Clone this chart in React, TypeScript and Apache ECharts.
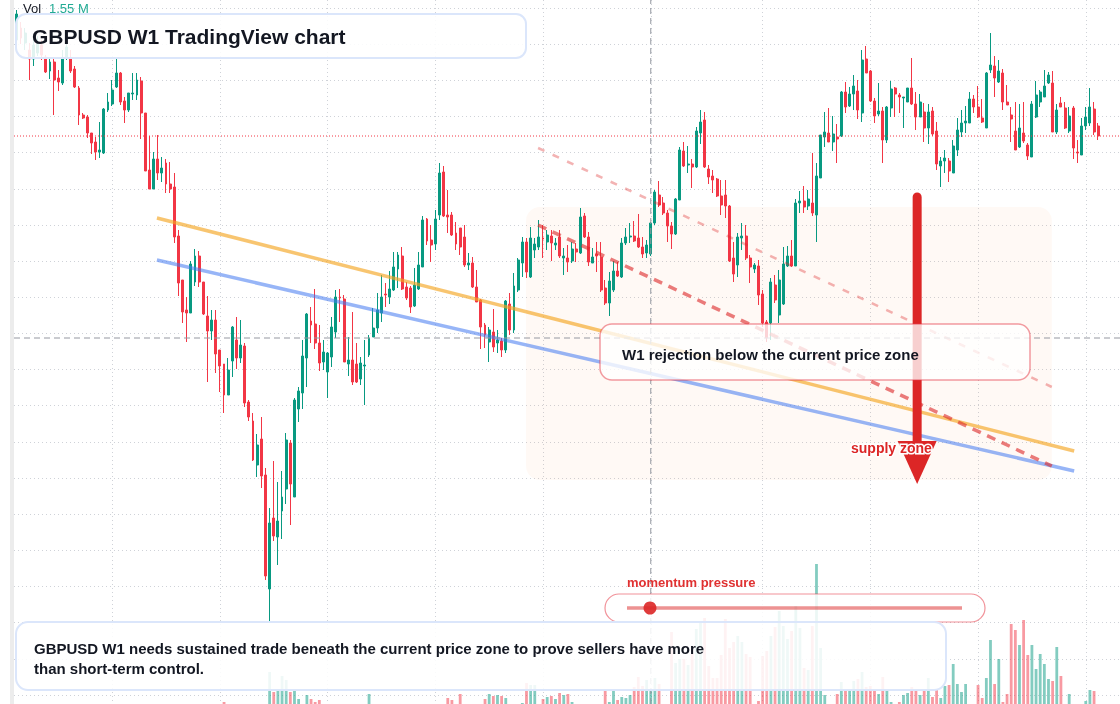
import React, { useEffect, useRef } from "react";
import * as echarts from "echarts";

// ---- weekly GBPUSD candles ----
const opens = [
  1.4320, 1.4404, 1.4299, 1.4250, 1.4187, 1.4229, 1.4285, 1.4201, 1.4103, 1.4166,
  1.4054, 1.4019, 1.4194, 1.4194, 1.4117, 1.3984, 1.3795, 1.3781, 1.3669, 1.3606,
  1.3536, 1.3529, 1.3830, 1.3872, 1.3991, 1.4089, 1.3893, 1.3830, 1.3942, 1.3935,
  1.4033, 1.3809, 1.3410, 1.3277, 1.3487, 1.3389, 1.3459, 1.3312, 1.3291, 1.2948,
  1.2640, 1.2430, 1.2409, 1.2626, 1.2808, 1.2626, 1.2388, 1.2283, 1.2360, 1.2150,
  1.2052, 1.1835, 1.2073, 1.2220, 1.2094, 1.2178, 1.1786, 1.1653, 1.1345, 1.1527,
  1.1275, 1.0477, 1.0974, 1.0841, 1.1023, 1.1177, 1.1499, 1.1121, 1.1737, 1.1849,
  1.2094, 1.2353, 1.2332, 1.2199, 1.2066, 1.1996, 1.2101, 1.2276, 1.2521, 1.2507,
  1.2052, 1.2080, 1.2052, 1.1947, 1.2038, 1.2115, 1.2241, 1.2304, 1.2409, 1.2542,
  1.2521, 1.2570, 1.2717, 1.2808, 1.2591, 1.2584, 1.2458, 1.2577, 1.2731, 1.3067,
  1.2920, 1.2892, 1.3095, 1.3396, 1.3095, 1.3095, 1.2969, 1.3004, 1.2941, 1.2745,
  1.2759, 1.2591, 1.2500, 1.2325, 1.2206, 1.2276, 1.2199, 1.2213, 1.2150, 1.2472,
  1.2290, 1.2570, 1.2759, 1.2906, 1.2661, 1.2850, 1.2871, 1.2934, 1.2906, 1.2948,
  1.2885, 1.2941, 1.2794, 1.2794, 1.2773, 1.2857, 1.2829, 1.3088, 1.2941, 1.2759,
  1.2822, 1.2801, 1.2584, 1.2479, 1.2570, 1.2703, 1.2661, 1.2899, 1.2941, 1.2948,
  1.2934, 1.2871, 1.2829, 1.2822, 1.3039, 1.3235, 1.3179, 1.3109, 1.3018, 1.2962,
  1.3200, 1.3543, 1.3445, 1.3452, 1.3431, 1.3669, 1.3760, 1.3417, 1.3368, 1.3347,
  1.3228, 1.3235, 1.3158, 1.2794, 1.2745, 1.2934, 1.2948, 1.2794, 1.2717, 1.2738,
  1.2542, 1.2346, 1.2339, 1.2605, 1.2395, 1.2472, 1.2738, 1.2808, 1.2738, 1.3179,
  1.3193, 1.3158, 1.3179, 1.3095, 1.3354, 1.3641, 1.3669, 1.3606, 1.3641, 1.3648,
  1.3956, 1.3858, 1.3942, 1.3963, 1.3809, 1.4187, 1.4103, 1.3893, 1.3802, 1.3823,
  1.3620, 1.3844, 1.3984, 1.3935, 1.3914, 1.3886, 1.3984, 1.3872, 1.3781, 1.3816,
  1.3704, 1.3823, 1.3683, 1.3438, 1.3473, 1.3473, 1.3389, 1.3550, 1.3676, 1.3739,
  1.3739, 1.3907, 1.3851, 1.3774, 1.3704, 1.4110, 1.4138, 1.4026, 1.4089, 1.3886,
  1.3795, 1.3683, 1.3571, 1.3669, 1.3585, 1.3501, 1.3781, 1.3886, 1.3921, 1.4019,
  1.4019, 1.3676, 1.3879, 1.3844, 1.3683, 1.3844, 1.3536, 1.3515, 1.3718, 1.3739,
  1.3837, 1.3718,
];
const closes = [
  1.4502, 1.4334, 1.4369, 1.4187, 1.4285, 1.4306, 1.4215, 1.4096, 1.4166, 1.4040,
  1.4026, 1.4194, 1.4271, 1.4103, 1.3991, 1.3795, 1.3774, 1.3669, 1.3599, 1.3536,
  1.3550, 1.3837, 1.3886, 1.3970, 1.4089, 1.3886, 1.3830, 1.3949, 1.3949, 1.4040,
  1.3809, 1.3403, 1.3277, 1.3487, 1.3389, 1.3424, 1.3312, 1.3277, 1.2941, 1.2619,
  1.2416, 1.2409, 1.2752, 1.2808, 1.2626, 1.2402, 1.2283, 1.2360, 1.2122, 1.2038,
  1.1835, 1.2010, 1.2311, 1.2094, 1.2185, 1.1779, 1.1681, 1.1380, 1.1485, 1.1268,
  1.0568, 1.0939, 1.0848, 1.0953, 1.1121, 1.1520, 1.1212, 1.1800, 1.1863, 1.2108,
  1.2402, 1.2325, 1.2199, 1.2059, 1.2136, 1.2129, 1.2311, 1.2521, 1.2514, 1.2066,
  1.2080, 1.1926, 1.1926, 1.2059, 1.2045, 1.2234, 1.2304, 1.2430, 1.2521, 1.2535,
  1.2577, 1.2731, 1.2815, 1.2577, 1.2514, 1.2451, 1.2605, 1.2745, 1.3060, 1.2913,
  1.2885, 1.3067, 1.3389, 1.3088, 1.3081, 1.2955, 1.2892, 1.2871, 1.2745, 1.2759,
  1.2591, 1.2486, 1.2311, 1.2255, 1.2290, 1.2171, 1.2220, 1.2150, 1.2493, 1.2290,
  1.2598, 1.2780, 1.2906, 1.2696, 1.2934, 1.2892, 1.2941, 1.2927, 1.2955, 1.2899,
  1.2899, 1.2808, 1.2808, 1.2766, 1.2857, 1.2836, 1.3081, 1.2941, 1.2766, 1.2801,
  1.2808, 1.2570, 1.2479, 1.2633, 1.2703, 1.2668, 1.2899, 1.2941, 1.2948, 1.2913,
  1.2871, 1.2822, 1.2885, 1.3039, 1.3256, 1.3165, 1.3109, 1.3018, 1.2962, 1.3207,
  1.3550, 1.3438, 1.3452, 1.3431, 1.3683, 1.3746, 1.3431, 1.3361, 1.3340, 1.3228,
  1.3165, 1.3158, 1.2773, 1.2682, 1.2941, 1.2948, 1.2794, 1.2731, 1.2745, 1.2535,
  1.2339, 1.2234, 1.2626, 1.2500, 1.2640, 1.2752, 1.2808, 1.2738, 1.3179, 1.3193,
  1.3151, 1.3207, 1.3109, 1.3368, 1.3655, 1.3676, 1.3606, 1.3662, 1.3627, 1.3956,
  1.3851, 1.3942, 1.3998, 1.3830, 1.4180, 1.4089, 1.3893, 1.3788, 1.3823, 1.3620,
  1.3851, 1.3977, 1.3942, 1.3921, 1.3921, 1.3984, 1.3872, 1.3781, 1.3886, 1.3704,
  1.3816, 1.3662, 1.3452, 1.3473, 1.3494, 1.3403, 1.3578, 1.3690, 1.3739, 1.3753,
  1.3907, 1.3851, 1.3781, 1.3746, 1.4089, 1.4145, 1.4054, 1.4103, 1.3886, 1.3865,
  1.3767, 1.3550, 1.3704, 1.3613, 1.3508, 1.3872, 1.3935, 1.3956, 1.3998, 1.4075,
  1.3676, 1.3830, 1.3851, 1.3704, 1.3788, 1.3564, 1.3529, 1.3718, 1.3781, 1.3851,
  1.3676, 1.3648,
];
const lows = [
  1.4292, 1.4292, 1.4250, 1.4040, 1.4138, 1.4208, 1.4180, 1.4089, 1.4047, 1.3795,
  1.3963, 1.4005, 1.4180, 1.4089, 1.3984, 1.3725, 1.3767, 1.3634, 1.3522, 1.3480,
  1.3494, 1.3522, 1.3816, 1.3858, 1.3984, 1.3865, 1.3739, 1.3816, 1.3900, 1.3900,
  1.3627, 1.3403, 1.3277, 1.3277, 1.3340, 1.3326, 1.3249, 1.3249, 1.2899, 1.2528,
  1.2339, 1.2206, 1.2409, 1.2598, 1.2591, 1.2395, 1.1926, 1.2220, 1.1989, 1.1856,
  1.1709, 1.1835, 1.1961, 1.2017, 1.2059, 1.1751, 1.1653, 1.1373, 1.1261, 1.1184,
  1.0540, 1.0246, 1.0813, 1.0645, 1.0827, 1.1072, 1.0925, 1.1121, 1.1646, 1.1737,
  1.1891, 1.2199, 1.2157, 1.2003, 1.2010, 1.1814, 1.2031, 1.2234, 1.2346, 1.2066,
  1.1968, 1.1905, 1.1919, 1.1905, 1.1765, 1.2101, 1.2241, 1.2269, 1.2346, 1.2451,
  1.2472, 1.2563, 1.2584, 1.2570, 1.2500, 1.2409, 1.2451, 1.2570, 1.2731, 1.2885,
  1.2766, 1.2850, 1.3060, 1.3081, 1.2969, 1.2948, 1.2850, 1.2815, 1.2731, 1.2710,
  1.2584, 1.2486, 1.2157, 1.2164, 1.2066, 1.2136, 1.2129, 1.2101, 1.2129, 1.2255,
  1.2269, 1.2556, 1.2661, 1.2654, 1.2654, 1.2794, 1.2850, 1.2794, 1.2850, 1.2773,
  1.2850, 1.2794, 1.2675, 1.2696, 1.2759, 1.2766, 1.2822, 1.2934, 1.2738, 1.2759,
  1.2696, 1.2556, 1.2465, 1.2388, 1.2556, 1.2661, 1.2654, 1.2885, 1.2899, 1.2906,
  1.2864, 1.2794, 1.2794, 1.2808, 1.3025, 1.3151, 1.3095, 1.2906, 1.2857, 1.2955,
  1.3200, 1.3431, 1.3389, 1.3284, 1.3424, 1.3592, 1.3424, 1.3312, 1.3249, 1.3221,
  1.3095, 1.3074, 1.2766, 1.2626, 1.2661, 1.2850, 1.2780, 1.2619, 1.2689, 1.2465,
  1.2311, 1.2206, 1.2220, 1.2479, 1.2339, 1.2465, 1.2731, 1.2731, 1.2738, 1.3109,
  1.3109, 1.3130, 1.3088, 1.2906, 1.3354, 1.3571, 1.3606, 1.3543, 1.3459, 1.3641,
  1.3809, 1.3851, 1.3830, 1.3767, 1.3746, 1.4089, 1.3886, 1.3739, 1.3788, 1.3459,
  1.3599, 1.3781, 1.3781, 1.3809, 1.3704, 1.3886, 1.3865, 1.3690, 1.3781, 1.3606,
  1.3592, 1.3648, 1.3410, 1.3291, 1.3389, 1.3326, 1.3389, 1.3508, 1.3641, 1.3669,
  1.3739, 1.3809, 1.3774, 1.3739, 1.3704, 1.4089, 1.3921, 1.4019, 1.3830, 1.3865,
  1.3606, 1.3550, 1.3564, 1.3599, 1.3480, 1.3501, 1.3774, 1.3851, 1.3921, 1.4012,
  1.3676, 1.3662, 1.3851, 1.3697, 1.3669, 1.3487, 1.3459, 1.3515, 1.3690, 1.3718,
  1.3655, 1.3620,
];
const highs = [
  1.4530, 1.4446, 1.4404, 1.4299, 1.4320, 1.4348, 1.4320, 1.4215, 1.4194, 1.4194,
  1.4110, 1.4250, 1.4306, 1.4250, 1.4138, 1.3998, 1.3809, 1.3795, 1.3669, 1.3641,
  1.3746, 1.3844, 1.3949, 1.4040, 1.4194, 1.4096, 1.3921, 1.3949, 1.4089, 1.4089,
  1.4061, 1.3809, 1.3648, 1.3536, 1.3655, 1.3501, 1.3487, 1.3466, 1.3389, 1.2990,
  1.2640, 1.2521, 1.2773, 1.2857, 1.2843, 1.2626, 1.2528, 1.2430, 1.2430, 1.2150,
  1.2052, 1.2094, 1.2318, 1.2381, 1.2360, 1.2199, 1.1800, 1.1709, 1.1562, 1.1681,
  1.1324, 1.1044, 1.1373, 1.1226, 1.1303, 1.1569, 1.1520, 1.1814, 1.1891, 1.2220,
  1.2409, 1.2451, 1.2577, 1.2325, 1.2220, 1.2136, 1.2381, 1.2570, 1.2577, 1.2535,
  1.2241, 1.2416, 1.2199, 1.2101, 1.2220, 1.2255, 1.2444, 1.2549, 1.2675, 1.2619,
  1.2703, 1.2836, 1.2836, 1.2871, 1.2626, 1.2598, 1.2724, 1.2836, 1.3088, 1.3074,
  1.3025, 1.3130, 1.3459, 1.3438, 1.3270, 1.3116, 1.3046, 1.3004, 1.3025, 1.2829,
  1.2801, 1.2710, 1.2507, 1.2339, 1.2311, 1.2437, 1.2290, 1.2234, 1.2500, 1.2549,
  1.2689, 1.2794, 1.2941, 1.2934, 1.3011, 1.2934, 1.3060, 1.3025, 1.2990, 1.2990,
  1.2934, 1.2990, 1.2864, 1.2885, 1.2906, 1.2899, 1.3144, 1.3109, 1.2976, 1.2864,
  1.2906, 1.2906, 1.2640, 1.2696, 1.2773, 1.2766, 1.2934, 1.3004, 1.3039, 1.3053,
  1.3102, 1.2941, 1.2920, 1.3046, 1.3270, 1.3333, 1.3221, 1.3130, 1.3046, 1.3214,
  1.3571, 1.3606, 1.3578, 1.3487, 1.3711, 1.3830, 1.3816, 1.3445, 1.3410, 1.3354,
  1.3340, 1.3340, 1.3165, 1.2906, 1.2969, 1.3039, 1.3025, 1.2815, 1.2759, 1.2780,
  1.2570, 1.2360, 1.2654, 1.2675, 1.2710, 1.2871, 1.2878, 1.2920, 1.3207, 1.3263,
  1.3298, 1.3270, 1.3529, 1.3459, 1.3655, 1.3816, 1.3844, 1.3788, 1.3732, 1.3963,
  1.4026, 1.3991, 1.4075, 1.4040, 1.4250, 1.4278, 1.4110, 1.3914, 1.4019, 1.3851,
  1.3858, 1.4033, 1.3991, 1.3949, 1.3921, 1.3984, 1.4194, 1.3956, 1.3942, 1.3879,
  1.3872, 1.3851, 1.3746, 1.3501, 1.3550, 1.3494, 1.3620, 1.3774, 1.3830, 1.3858,
  1.3956, 1.3935, 1.3998, 1.3907, 1.4096, 1.4369, 1.4208, 1.4180, 1.4117, 1.4005,
  1.3851, 1.3886, 1.3872, 1.3886, 1.3599, 1.3893, 1.4033, 1.3970, 1.4110, 1.4096,
  1.4103, 1.3872, 1.3921, 1.3886, 1.3851, 1.3858, 1.3620, 1.3774, 1.3851, 1.3984,
  1.3886, 1.3739,
];
// weekly volume, millions
const volumes = [
  0, 0, 0, 0, 0, 0, 0, 0, 0, 0,
  0, 0, 0, 0, 0, 0, 0, 0, 0, 0,
  0, 0, 0, 0, 0, 0, 0, 0, 0, 0,
  0, 0, 0, 0, 0, 0, 0, 0, 0, 0,
  0, 0, 0, 0, 0, 0, 0, 0, 0, 0,
  0.24, 0, 0, 0, 0, 0, 0, 0, 0, 0,
  0, 3.84, 1.44, 1.56, 3.36, 2.88, 1.44, 1.68, 0.6, 0,
  1.08, 0.6, 0.24, 0.48, 0, 0, 0, 0, 0, 0,
  0, 0, 0, 0, 0, 1.2, 0, 0, 0, 0,
  0, 0, 0, 0, 0, 0, 0, 0, 0, 0,
  0, 0, 0, 0, 0.72, 0.48, 0, 1.2, 0, 0,
  0, 0, 0, 0.6, 1.2, 0.96, 1.08, 0.96, 0.72, 0,
  0, 0, 0.12, 2.52, 2.28, 2.28, 0, 0.6, 0.84, 0.96,
  0.6, 1.32, 1.08, 1.2, 0.24, 0, 0, 0, 0, 0,
  0, 0, 1.56, 0.24, 1.56, 0.48, 0.84, 0.72, 1.08, 2.04,
  3.24, 2.16, 2.88, 1.55, 3.12, 2.4, 0, 0, 8.64, 4.92,
  5.4, 5.4, 4.68, 6.0, 9.0, 9.84, 10.32, 4.56, 3.12, 3.12,
  5.88, 10.2, 6.72, 7.44, 8.16, 7.44, 6.0, 5.64, 0, 0.36,
  5.76, 6.36, 8.16, 9.24, 11.16, 9.36, 7.8, 8.76, 11.76, 9.12,
  4.32, 4.08, 9.36, 16.8, 6.72, 1.08, 0, 0, 1.2, 2.64,
  1.68, 1.68, 2.76, 3.0, 3.84, 2.04, 2.16, 1.56, 1.2, 3.24,
  1.56, 0.24, 0, 0.24, 1.08, 1.32, 2.04, 1.56, 1.08, 1.8,
  3.12, 0.84, 1.68, 0.72, 2.16, 2.28, 4.8, 2.4, 1.44, 2.4,
  0, 0, 2.28, 0.72, 3.12, 7.68, 2.4, 5.4, 0.24, 1.2,
  9.6, 8.88, 7.08, 10.08, 5.88, 7.08, 4.2, 6.0, 4.8, 3.0,
  2.76, 6.84, 3.36, 0, 1.2, 0, 0, 0, 0.36, 1.68,
  1.56, 0,
];
const weeks = opens.map((_, i) => `W${i + 1}`);

// time grid (week indices), crosshair, annotations (week index, price)
const timeGridWeeks = [23, 49, 75, 101, 127, 153, 180, 206, 232, 258];
const crosshairWeek = 153;
const crosshairPrice = 1.2234;
const orangeTrend = [[33.8, 1.3074], [255.2, 1.1443]];
const blueTrend = [[33.8, 1.278], [255.2, 1.1303]];
const upperChannel = [[125.8, 1.3564], [249.8, 1.1891]];
const lowerChannel = [[125.8, 1.3025], [249.8, 1.1338]];
const priceZone = [[122.9, 1.3151], [249.8, 1.124]];
const arrowWeek = 217.3;
const arrowPrices = { from: 1.3221, to: 1.1485, headBase: 1.1513, tip: 1.1212 };

const PRICE_MIN = 0.9735;
const PRICE_MAX = 1.4544;
const VOL_MAX = 24;

const UP = "#089981";
const DOWN = "#f23645";
const FONT = '"Liberation Sans", Arial, Helvetica, sans-serif';
const INK = "#131722";

export default function App() {
  const ref = useRef<HTMLDivElement>(null);

  useEffect(() => {
    document.body.style.margin = "0";
    document.body.style.overflow = "hidden";
    const el = ref.current!;
    const chart = echarts.init(el, null, { renderer: "svg" });
    const n = opens.length;
    const lastClose = closes[n - 1];
    const PL = 16.9;
    const PW = 1081.3;

    const candleData = opens.map((o, i) => [o, closes[i], lows[i], highs[i]]);
    const volData = volumes.map((v, i) => ({
      value: v,
      itemStyle: { color: closes[i] >= opens[i] ? "rgba(8,153,129,0.5)" : "rgba(242,54,69,0.5)" },
    }));

    const hidden = { show: false };
    const gridLineStyle = { color: "#cfd2d8", width: 1, type: [1, 3] };

    const option: any = {
      animation: false,
      grid: [
        { left: PL, width: PW, top: 8, height: 687 },
        { left: PL, width: PW, top: 504, height: 200 },
        { left: PL, width: PW, top: 8, height: 687 },
        { left: 14, right: 0, top: 8, height: 687 },
        { left: PL, width: PW, top: 0, height: 704 },
        { left: 14, right: 0, top: 8, height: 687 },
      ],
      xAxis: [
        { gridIndex: 0, type: "category", data: weeks, boundaryGap: false, ...hidden },
        { gridIndex: 1, type: "category", data: weeks, boundaryGap: false, ...hidden },
        { gridIndex: 2, type: "value", min: 0, max: n - 1, ...hidden },
        { gridIndex: 3, type: "value", min: 0, max: 1, ...hidden },
        {
          gridIndex: 4, type: "category", data: weeks, boundaryGap: false, show: true,
          axisLine: { show: false }, axisTick: { show: false }, axisLabel: { show: false },
          splitLine: { show: true, interval: (i: number) => timeGridWeeks.includes(i), lineStyle: gridLineStyle },
        },
        { gridIndex: 5, type: "value", min: 0, max: 1, ...hidden },
      ],
      yAxis: [
        { gridIndex: 0, type: "value", min: PRICE_MIN, max: PRICE_MAX, ...hidden },
        { gridIndex: 1, type: "value", min: 0, max: VOL_MAX, ...hidden },
        { gridIndex: 2, type: "value", min: PRICE_MIN, max: PRICE_MAX, ...hidden },
        {
          gridIndex: 3, type: "value", min: 0, max: 19, interval: 1, show: true,
          axisLine: { show: false }, axisTick: { show: false }, axisLabel: { show: false },
          splitLine: { show: true, lineStyle: gridLineStyle },
        },
        { gridIndex: 4, type: "value", min: 0, max: 1, ...hidden },
        { gridIndex: 5, type: "value", min: PRICE_MIN, max: PRICE_MAX, ...hidden },
      ],
      series: [
        {
          type: "candlestick", xAxisIndex: 0, yAxisIndex: 0, data: candleData, barWidth: 2.4, clip: false,
          silent: true, z: 2,
          itemStyle: { color: UP, color0: DOWN, borderColor: UP, borderColor0: DOWN, borderWidth: 1 },
        },
        { type: "bar", xAxisIndex: 1, yAxisIndex: 1, data: volData, barWidth: 2.8, silent: true, z: 2 },
        {
          type: "line", xAxisIndex: 2, yAxisIndex: 2, data: orangeTrend, symbol: "none", silent: true, z: 3,
          lineStyle: { color: "rgba(245,166,35,0.65)", width: 3.5 },
        },
        {
          type: "line", xAxisIndex: 2, yAxisIndex: 2, data: blueTrend, symbol: "none", silent: true, z: 3,
          lineStyle: { color: "rgba(66,120,240,0.55)", width: 3.5 },
        },
        {
          type: "line", xAxisIndex: 2, yAxisIndex: 2, data: upperChannel, symbol: "none", silent: true, z: 3,
          lineStyle: { color: "rgba(220,38,38,0.35)", width: 2.5, type: [7, 9] },
        },
        {
          type: "line", xAxisIndex: 2, yAxisIndex: 2, data: lowerChannel, symbol: "none", silent: true, z: 3,
          lineStyle: { color: "rgba(220,38,38,0.6)", width: 3.5, type: [9, 7] },
        },
        {
          type: "line", xAxisIndex: 4, yAxisIndex: 4, data: [[crosshairWeek, 0], [crosshairWeek, 1]],
          symbol: "none", silent: true, z: 4, lineStyle: { color: "#9598a1", width: 1, type: [6, 4] },
        },
        {
          type: "line", xAxisIndex: 5, yAxisIndex: 5, data: [[0, lastClose], [1, lastClose]],
          symbol: "none", silent: true, z: 4, lineStyle: { color: "#f23645", width: 1, type: [1, 2] },
        },
        {
          type: "line", xAxisIndex: 5, yAxisIndex: 5, data: [[0, crosshairPrice], [1, crosshairPrice]],
          symbol: "none", silent: true, z: 4, lineStyle: { color: "#9598a1", width: 1, type: [6, 4] },
        },
      ],
    };
    chart.setOption(option);

    const px = (x: number, y: number) => chart.convertToPixel({ seriesIndex: 2 }, [x, y]) as number[];
    const [zx1, zy1] = px(priceZone[0][0], priceZone[0][1]);
    const [zx2, zy2] = px(priceZone[1][0], priceZone[1][1]);
    const [ax, ay1] = px(arrowWeek, arrowPrices.from);
    const ay2 = px(arrowWeek, arrowPrices.to)[1];
    const ahb = px(arrowWeek, arrowPrices.headBase)[1];
    const atip = px(arrowWeek, arrowPrices.tip)[1];

    const text = (x: number, y: number, s: string, size: number, fill: string, bold = true, z = 51, extra: any = {}) => ({
      type: "text", x, y, z, silent: true,
      style: { text: s, fill, fontSize: size, fontWeight: bold ? "bold" : "normal", fontFamily: FONT, verticalAlign: "middle", align: "left", ...extra },
    });

    chart.setOption({
      graphic: [
        { type: "rect", z: 5, silent: true, shape: { x: 10, y: 0, width: 4, height: 704 }, style: { fill: "#ececec" } },
        {
          type: "rect", z: 1, silent: true,
          shape: { x: zx1, y: zy1, width: zx2 - zx1, height: zy2 - zy1, r: 14 },
          style: { fill: "rgba(250,160,90,0.06)" },
        },
        {
          type: "line", z: 20, silent: true, shape: { x1: ax, y1: ay1, x2: ax, y2: ay2 },
          style: { stroke: "#dc2626", lineWidth: 9, lineCap: "round" },
        },
        {
          type: "rect", z: 30, silent: true, shape: { x: 600, y: 324, width: 430, height: 56, r: 12 },
          style: { fill: "rgba(255,255,255,0.78)", stroke: "rgba(230,57,70,0.5)", lineWidth: 1.5 },
        },
        text(622, 354, "W1 rejection below the current price zone", 15, INK, true, 31),
        {
          type: "polygon", z: 32, silent: true,
          shape: { points: [[ax - 19.5, ahb], [ax + 19.5, ahb], [ax, atip]] },
          style: { fill: "#dc2626" },
        },
        text(851, 448, "supply zone", 14, "#dc2626", true, 33, { stroke: "#ffffff", lineWidth: 3 }),
        {
          type: "rect", z: 40, silent: true, shape: { x: 605, y: 594, width: 380, height: 28, r: 14 },
          style: { fill: "rgba(255,255,255,0.85)", stroke: "rgba(230,57,70,0.55)", lineWidth: 1.2 },
        },
        {
          type: "line", z: 41, silent: true, shape: { x1: 627, y1: 608, x2: 962, y2: 608 },
          style: { stroke: "rgba(220,38,38,0.5)", lineWidth: 3.5 },
        },
        { type: "circle", z: 42, silent: true, shape: { cx: 650, cy: 608, r: 6.5 }, style: { fill: "rgba(220,38,38,0.9)" } },
        text(627, 582, "momentum pressure", 13, "#e03131", true, 42),
        {
          type: "rect", z: 50, silent: true, shape: { x: 16, y: 14, width: 510, height: 44, r: 10 },
          style: { fill: "rgba(255,255,255,0.88)", stroke: "#dbe6fb", lineWidth: 2 },
        },
        text(32, 36, "GBPUSD W1 TradingView chart", 21, INK),
        {
          type: "rect", z: 50, silent: true, shape: { x: 16, y: 622, width: 930, height: 68, r: 12 },
          style: { fill: "rgba(255,255,255,0.88)", stroke: "#dbe6fb", lineWidth: 2 },
        },
        text(34, 648, "GBPUSD W1 needs sustained trade beneath the current price zone to prove sellers have more", 15, INK),
        text(34, 668, "than short-term control.", 15, INK),
        text(23, 8, "Vol", 13, INK, false),
        text(49, 8, `${volumes[crosshairWeek].toFixed(2)} M`, 13, "#22ab94", false),
      ],
    });

    return () => chart.dispose();
  }, []);

  return <div ref={ref} style={{ position: "fixed", left: 0, top: 0, width: 1120, height: 704 }} />;
}
